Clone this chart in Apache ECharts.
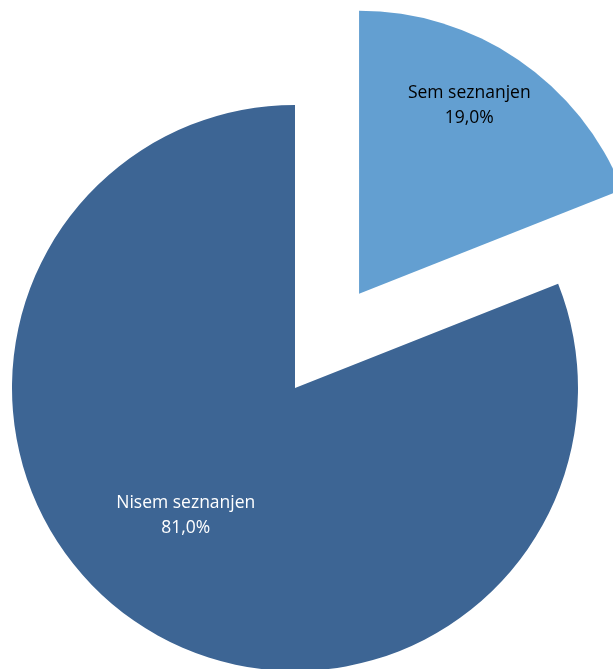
<!DOCTYPE html>
<html>
<head>
<meta charset="utf-8">
<script src="https://cdn.jsdelivr.net/npm/echarts@6/dist/echarts.min.js"></script>
<style>
html,body{margin:0;padding:0;background:#fff;}
#c{width:613px;height:669px;}
</style>
</head>
<body>
<div id="c"></div>
<script>
var categories = ['Sem seznanjen', 'Nisem seznanjen'];
var values = [19.0, 81.0];
var colors = ['#639fd1', '#3d6594'];
var labelColors = ['#000000', '#ffffff'];
var labelShift = [[29, -69], [-28, 8]];
var selectedFlags = [true, false];

var chart = echarts.init(document.getElementById('c'), null, {renderer: 'canvas'});
var data = categories.map(function (name, i) {
  return {
    name: name,
    value: values[i],
    selected: selectedFlags[i],
    itemStyle: {color: colors[i]},
    label: {color: labelColors[i]}
  };
});
chart.setOption({
  animation: false,
  series: [{
    type: 'pie',
    center: [295, 388],
    radius: [0, 283],
    startAngle: 90,
    clockwise: true,
    selectedMode: 'multiple',
    selectedOffset: 114,
    avoidLabelOverlap: false,
    emphasis: {disabled: true},
    label: {
      show: true,
      position: 'inside',
      fontFamily: 'Open Sans',
      fontSize: 17.5,
      lineHeight: 25,
      align: 'center',
      formatter: function (p) {
        return p.name + '\n' + p.value.toFixed(1).replace('.', ',') + '%';
      }
    },
    labelLine: {show: false},
    labelLayout: function (params) {
      var s = labelShift[params.dataIndex];
      return {dx: s[0], dy: s[1]};
    },
    data: data
  }]
});
</script>
</body>
</html>
